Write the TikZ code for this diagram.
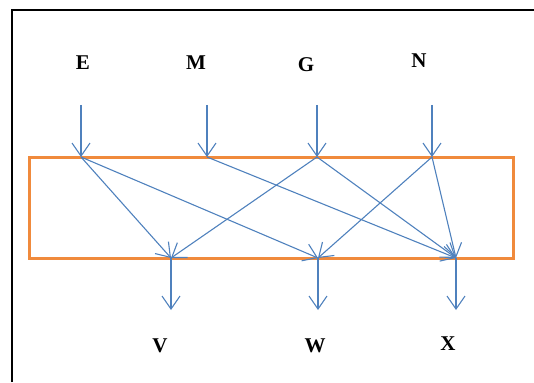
\documentclass[tikz,border=0pt]{standalone}
\usepackage{fontspec}
\setmainfont{Liberation Serif}
\usetikzlibrary{arrows.meta}
\definecolor{linkblue}{RGB}{79,129,189}
\definecolor{boxorange}{RGB}{240,138,60}

\begin{document}
\begin{tikzpicture}[x=1pt,y=-1pt,
  lbl/.style={font=\fontsize{21}{24}\selectfont\bfseries},
  flow/.style={color=linkblue,line width=1.1pt,-{Straight Barb[length=13pt,width=18pt]}}]
\useasboundingbox (0,0) rectangle (534,382);
\draw[line width=2pt] (12,382) -- (12,10) -- (534,10);

\draw[boxorange,line width=3pt] (29,157) rectangle (513,258);

% inputs on top
\node[lbl] (E) at (83,63) {E};
\node[lbl] (M) at (196,63) {M};
\node[lbl] (G) at (306,65) {G};
\node[lbl] (N) at (419,61) {N};

\coordinate (e0) at (81,105);
\coordinate (m0) at (207,105);
\coordinate (g0) at (317,105);
\coordinate (n0) at (432,105);
\coordinate (e1) at (81,157);
\coordinate (m1) at (207,157);
\coordinate (g1) at (317,157);
\coordinate (n1) at (432,157);

% outputs below
\coordinate (v1) at (171,258);
\coordinate (w1) at (318,258);
\coordinate (x1) at (456,258);
\coordinate (v0) at (171,310);
\coordinate (w0) at (318,310);
\coordinate (x0) at (456,310);

\node[lbl] (V) at (160,346) {V};
\node[lbl] (W) at (315,346) {W};
\node[lbl] (X) at (448,344) {X};

\draw[flow] (e0) -- (e1);
\draw[flow] (m0) -- (m1);
\draw[flow] (g0) -- (g1);
\draw[flow] (n0) -- (n1);

\draw[flow] (e1) -- (v1);
\draw[flow] (e1) -- (w1);
\draw[flow] (m1) -- (x1);
\draw[flow] (g1) -- (v1);
\draw[flow] (g1) -- (x1);
\draw[flow] (n1) -- (w1);
\draw[flow] (n1) -- (x1);

\draw[flow] (v1) -- (v0);
\draw[flow] (w1) -- (w0);
\draw[flow] (x1) -- (x0);
\end{tikzpicture}
\end{document}
